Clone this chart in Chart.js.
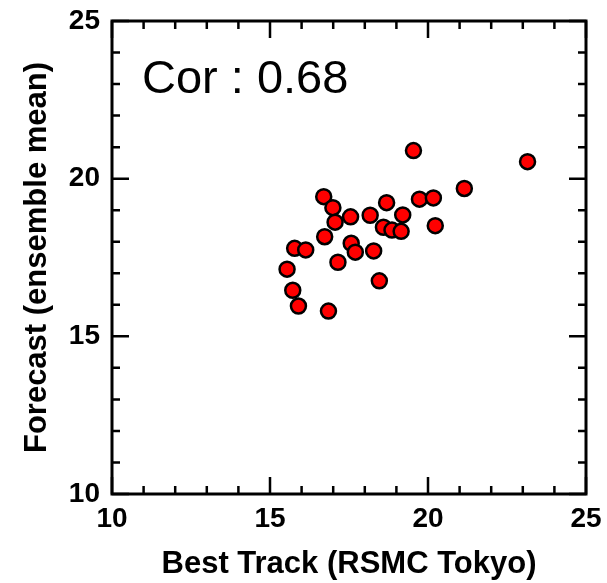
<!DOCTYPE html>
<html>
<head>
<meta charset="utf-8">
<script src="https://cdn.jsdelivr.net/npm/chart.js@4"></script>
<style>
  body { margin: 0; background: #fff; }
  canvas { display: block; }
</style>
</head>
<body>
<canvas id="scatter" width="607" height="583"></canvas>
<script>
// best track intensity vs ensemble mean forecast
const bestTrack = [19.54, 23.15, 21.15, 16.70, 19.73, 20.17, 16.99, 18.69, 17.55, 18.17,
                   19.20, 17.06, 18.59, 18.86, 19.15, 20.23, 16.73, 17.57, 17.70, 18.28,
                   15.78, 16.13, 17.15, 15.54, 18.46, 15.72, 15.90, 16.85];
const forecast  = [20.89, 20.54, 19.69, 19.43, 19.35, 19.39, 19.08, 19.24, 18.79, 18.84,
                   18.85, 18.62, 18.46, 18.37, 18.33, 18.51, 18.16, 17.95, 17.67, 17.71,
                   17.79, 17.74, 17.35, 17.13, 16.76, 16.46, 15.96, 15.80];
const axisMin = 10;
const axisMax = 25;
const corText = 'Cor : 0.68';

const FONT = '"Liberation Sans", Arial, Helvetica, sans-serif';

const points = bestTrack.map(function(x, i){
  return {x: x, y: forecast[i]};
});

// frame + inward ticks on all four sides, plus the correlation label
const frameTicks = {
  id: 'frameTicks',
  afterDatasetsDraw(chart) {
    const ctx = chart.ctx;
    const a = chart.chartArea;
    const xs = chart.scales.x;
    const ys = chart.scales.y;
    ctx.save();
    ctx.strokeStyle = '#000';
    ctx.lineCap = 'butt';
    ctx.lineWidth = 2.5;
    for (let v = axisMin; v <= axisMax; v++) {
      const len = v % 5 === 0 ? 17 : 8;
      const px = xs.getPixelForValue(v);
      const py = ys.getPixelForValue(v);
      ctx.beginPath();
      ctx.moveTo(px, a.bottom); ctx.lineTo(px, a.bottom - len);
      ctx.moveTo(px, a.top); ctx.lineTo(px, a.top + len);
      ctx.moveTo(a.left, py); ctx.lineTo(a.left + len, py);
      ctx.moveTo(a.right, py); ctx.lineTo(a.right - len, py);
      ctx.stroke();
    }
    ctx.lineWidth = 3;
    ctx.strokeRect(a.left, a.top, a.right - a.left, a.bottom - a.top);

    ctx.fillStyle = '#000';
    ctx.font = '47px ' + FONT;
    ctx.textAlign = 'left';
    ctx.textBaseline = 'alphabetic';
    ctx.fillText(corText, a.left + 30, a.top + 72);
    ctx.restore();
  }
};

// keep tick label overhang from shrinking the plot box
function noOverhang(scale) {
  scale.paddingTop = 0;
  scale.paddingBottom = 0;
  scale.paddingLeft = 0;
  scale.paddingRight = 0;
}

const config = {
  type: 'scatter',
  data: {
    datasets: [{
      data: points,
      backgroundColor: '#ff0000',
      borderColor: '#000',
      borderWidth: 2.5,
      pointRadius: 7.5,
      pointHoverRadius: 7.5
    }]
  },
  options: {
    responsive: false,
    animation: false,
    layout: { autoPadding: false, padding: { left: 0, right: 21, top: 21, bottom: 0 } },
    plugins: {
      legend: { display: false },
      tooltip: { enabled: false }
    },
    scales: {
      x: {
        type: 'linear',
        min: axisMin,
        max: axisMax,
        border: { display: false },
        grid: { display: false, drawTicks: false },
        ticks: {
          stepSize: 5,
          padding: 8,
          color: '#000',
          font: { family: FONT, size: 28, weight: 'bold' }
        },
        title: {
          display: true,
          text: 'Best Track (RSMC Tokyo)',
          color: '#000',
          padding: { top: 0, bottom: 0 },
          font: { family: FONT, size: 31, weight: 'bold' }
        },
        afterFit(scale) { scale.height = 89; noOverhang(scale); }
      },
      y: {
        type: 'linear',
        min: axisMin,
        max: axisMax,
        border: { display: false },
        grid: { display: false, drawTicks: false },
        ticks: {
          stepSize: 5,
          padding: 12,
          color: '#000',
          font: { family: FONT, size: 28, weight: 'bold' }
        },
        title: {
          display: true,
          text: 'Forecast (ensemble mean)',
          color: '#000',
          padding: { top: 19, bottom: 0 },
          font: { family: FONT, size: 31, weight: 'bold' }
        },
        afterFit(scale) { scale.width = 112; noOverhang(scale); }
      }
    }
  },
  plugins: [frameTicks]
};

const chart = new Chart(document.getElementById('scatter'), config);
</script>
</body>
</html>
